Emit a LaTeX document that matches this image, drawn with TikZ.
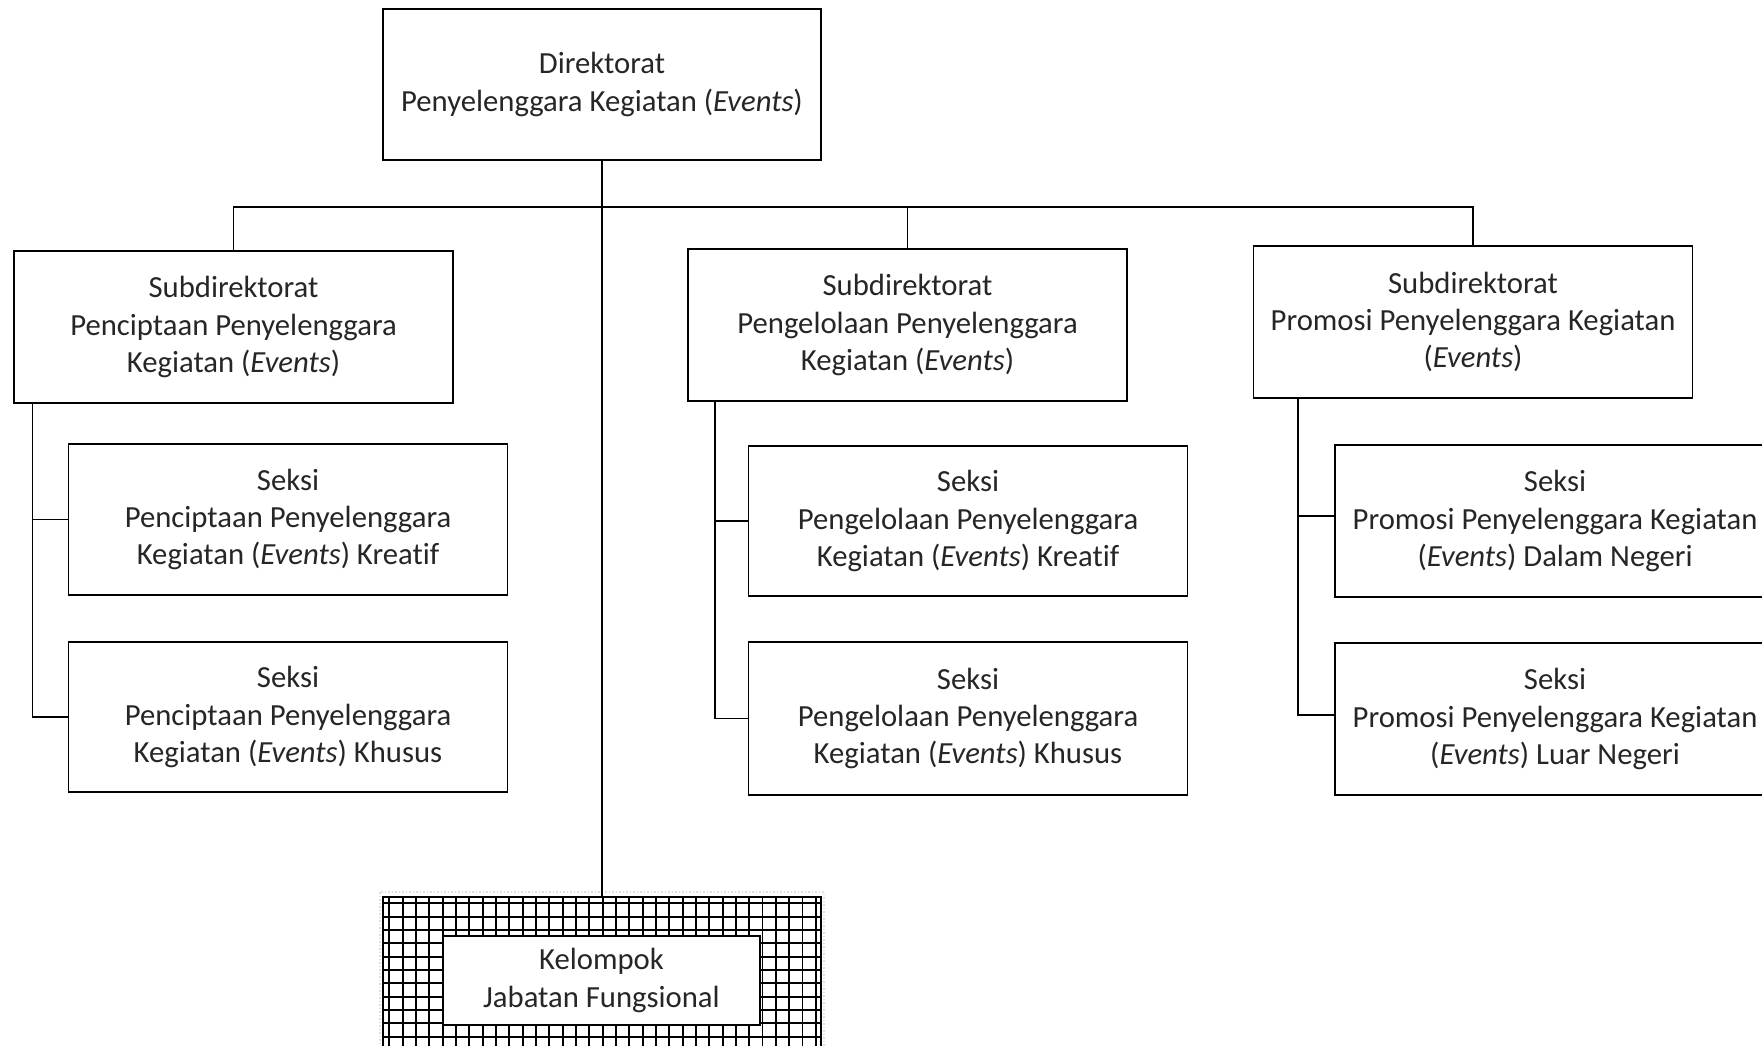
\documentclass[tikz,border=0pt]{standalone}
\usepackage{fontspec}
\setmainfont{Carlito}[Ligatures=NoCommon]
\definecolor{txt}{HTML}{262626}
\begin{document}
\begin{tikzpicture}[x=1pt,y=-1pt,
  box/.style={draw=black, line width=1.6pt, fill=white, inner sep=0pt, align=center,
    minimum width=439pt, minimum height=152pt, text=txt,
    font=\fontsize{30.7}{37.4}\selectfont},
  conn/.style={line width=1.6pt},
  gridline/.style={line width=1.9pt}]
\useasboundingbox (0,0) rectangle (1762,1046);
\fill[white] (0,0) rectangle (1762,1046);
\begin{scope}
\clip (0,0) rectangle (1762,1046);
% top
\node[box, minimum width=438pt, minimum height=151pt] (top) at (602,84.5) {Direktorat\\Penyelenggara Kegiatan (\textit{Events})};
% subdirectorates
\node[box] (s1) at (233.5,327) {Subdirektorat\\Penciptaan Penyelenggara\\Kegiatan (\textit{Events})};
\node[box] (s2) at (907.5,325) {Subdirektorat\\Pengelolaan Penyelenggara\\Kegiatan (\textit{Events})};
\node[box] (s3) at (1473,322) {Subdirektorat\\Promosi Penyelenggara Kegiatan\\(\textit{Events})};
% sections
\node[box, minimum height=151pt] (c11) at (288,519.5) {Seksi\\Penciptaan Penyelenggara\\Kegiatan (\textit{Events}) Kreatif};
\node[box, minimum height=150pt] (c12) at (288,717) {Seksi\\Penciptaan Penyelenggara\\Kegiatan (\textit{Events}) Khusus};
\node[box, minimum height=150pt] (c21) at (968,521) {Seksi\\Pengelolaan Penyelenggara\\Kegiatan (\textit{Events}) Kreatif};
\node[box, minimum height=153pt] (c22) at (968,718.5) {Seksi\\Pengelolaan Penyelenggara\\Kegiatan (\textit{Events}) Khusus};
\node[box, minimum width=440pt] (c31) at (1555,521) {Seksi\\Promosi Penyelenggara Kegiatan\\(\textit{Events}) Dalam Negeri};
\node[box, minimum width=440pt] (c32) at (1555,719) {Seksi\\Promosi Penyelenggara Kegiatan\\(\textit{Events}) Luar Negeri};
% functional group with grid frame
\draw[gray!25, dotted, line width=1.5pt] (380,892) rectangle (824,1060);
\node[draw=black, line width=1.8pt, minimum width=438pt, minimum height=163pt, inner sep=0pt] (grid) at (602,978.5) {};
\foreach \i in {0,...,32} \draw[gridline] (389.3+\i*13.33,897) -- (389.3+\i*13.33,1060);
\foreach \j in {0,...,11} \draw[gridline] (383,903.3+\j*13.33) -- (821,903.3+\j*13.33);
\node[box, minimum width=317pt, minimum height=89pt] (kjf) at (601.5,980.5) {Kelompok\\Jabatan Fungsional};
% connectors
\coordinate (bus) at (602,207);
\draw[conn] (top.south) -- (grid.north);
\draw[conn] (s1.north) |- (bus) -| (s3.north);
\draw[conn] (bus -| s2.north) -- (s2.north);
\coordinate (l1) at (32.6,403);
\coordinate (l2) at (714.7,401);
\coordinate (l3) at (1298,398);
\draw[conn] (l1) |- (c11.west);
\draw[conn] (l1) |- (c12.west);
\draw[conn] (l2) |- (c21.west);
\draw[conn] (l2) |- (c22.west);
\draw[conn] (l3) |- ([yshift=5pt]c31.west);
\draw[conn] (l3) |- ([yshift=4pt]c32.west);
\end{scope}
\end{tikzpicture}
\end{document}
